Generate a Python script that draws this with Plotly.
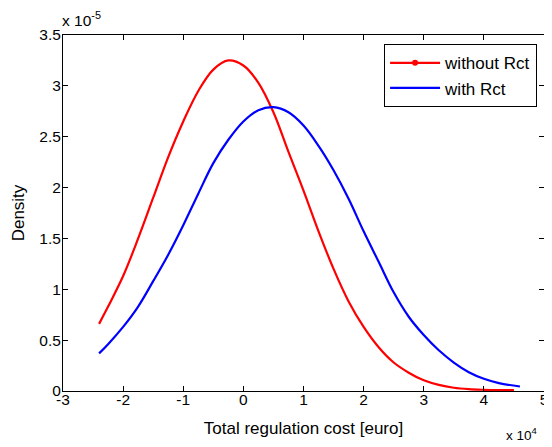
import plotly.graph_objects as go

# x in units of 1e4 euro, density in units of 1e-5
red_x = [-2.40, -2.25, -2.00, -1.75, -1.50, -1.25, -1.00, -0.75, -0.50, -0.25,
         0.00, 0.25, 0.50, 0.75, 1.00, 1.25, 1.50, 1.75, 2.00, 2.25, 2.50, 2.75,
         3.00, 3.25, 3.50, 3.75, 4.00, 4.25, 4.50]
red_y = [0.66, 0.83, 1.13, 1.50, 1.90, 2.30, 2.65, 2.95, 3.16, 3.25,
         3.20, 3.03, 2.74, 2.35, 1.97, 1.57, 1.20, 0.88, 0.63, 0.43, 0.28, 0.18,
         0.105, 0.06, 0.032, 0.018, 0.012, 0.009, 0.008]

blue_x = [-2.40, -2.25, -2.00, -1.75, -1.50, -1.25, -1.00, -0.75, -0.50, -0.25,
          0.00, 0.25, 0.50, 0.75, 1.00, 1.25, 1.50, 1.75, 2.00, 2.25, 2.50, 2.75,
          3.00, 3.25, 3.50, 3.75, 4.00, 4.25, 4.60]
blue_y = [0.37, 0.46, 0.63, 0.83, 1.08, 1.34, 1.63, 1.94, 2.24, 2.47,
          2.65, 2.76, 2.79, 2.74, 2.61, 2.41, 2.17, 1.89, 1.57, 1.27, 0.97, 0.73,
          0.55, 0.40, 0.28, 0.185, 0.12, 0.078, 0.044]

x_ticks = [-3, -2, -1, 0, 1, 2, 3, 4, 5]
x_ticktext = ["-3", "-2", "-1", "0", "1", "2", "3", "4", "5"]
y_ticks = [0, 0.5, 1, 1.5, 2, 2.5, 3, 3.5]
y_ticktext = ["0", "0.5", "1", "1.5", "2", "2.5", "3", "3.5"]

FONT = "Liberation Sans, Arial, Helvetica, sans-serif"

fig = go.Figure()
fig.add_trace(go.Scatter(x=red_x, y=red_y, mode="lines", showlegend=False,
                         line=dict(color="#FF0000", width=2.2, shape="spline", smoothing=1)))
fig.add_trace(go.Scatter(x=[None], y=[None], mode="lines+markers", name="without Rct",
                         line=dict(color="#FF0000", width=2.2),
                         marker=dict(color="#FF0000", size=6)))
fig.add_trace(go.Scatter(x=blue_x, y=blue_y, mode="lines", name="with Rct",
                         line=dict(color="#0000FF", width=2.2, shape="spline", smoothing=1)))

axis_common = dict(showgrid=False, zeroline=False, showline=True, linecolor="black",
                   linewidth=1, mirror="ticks", ticks="inside", ticklen=5,
                   tickcolor="black", tickwidth=1, ticklabeloverflow="allow",
                   tickfont=dict(family=FONT, size=15.5, color="black"))

fig.update_xaxes(range=[-3, 5], tickvals=x_ticks, ticktext=x_ticktext,
                 ticklabelstandoff=-6,
                 title=dict(text="Total regulation cost [euro]", standoff=15,
                            font=dict(family=FONT, size=17, color="black")),
                 **axis_common)
fig.update_yaxes(range=[0, 3.5], tickvals=y_ticks, ticktext=y_ticktext,
                 ticklabelstandoff=-2,
                 title=dict(text="Density", standoff=10,
                            font=dict(family=FONT, size=17, color="black")),
                 **axis_common)

fig.add_annotation(text="x 10<sup>-5</sup>", xref="paper", yref="paper",
                   x=-0.006, y=1.045, xanchor="left", yanchor="middle", showarrow=False,
                   font=dict(family=FONT, size=15.5, color="black"))
fig.add_annotation(text="x 10<sup>4</sup>", xref="paper", yref="paper",
                   x=0.99, y=-0.12, xanchor="right", yanchor="middle", showarrow=False,
                   font=dict(family=FONT, size=13.5, color="black"))

# the page body adds an 8px offset; figure sized to fit the window
fig.update_layout(
    width=544, height=439,
    margin=dict(l=54.5, r=4, t=27.2, b=56.2),
    plot_bgcolor="white", paper_bgcolor="white",
    font=dict(family=FONT, color="black"),
    legend=dict(x=0.9856, y=0.974, xanchor="right", yanchor="top",
                bgcolor="white", bordercolor="black", borderwidth=1,
                font=dict(family=FONT, size=17, color="black"),
                itemwidth=50, tracegroupgap=0,
                entrywidth=106, entrywidthmode="pixels"),
)

fig.write_html("out.html")
